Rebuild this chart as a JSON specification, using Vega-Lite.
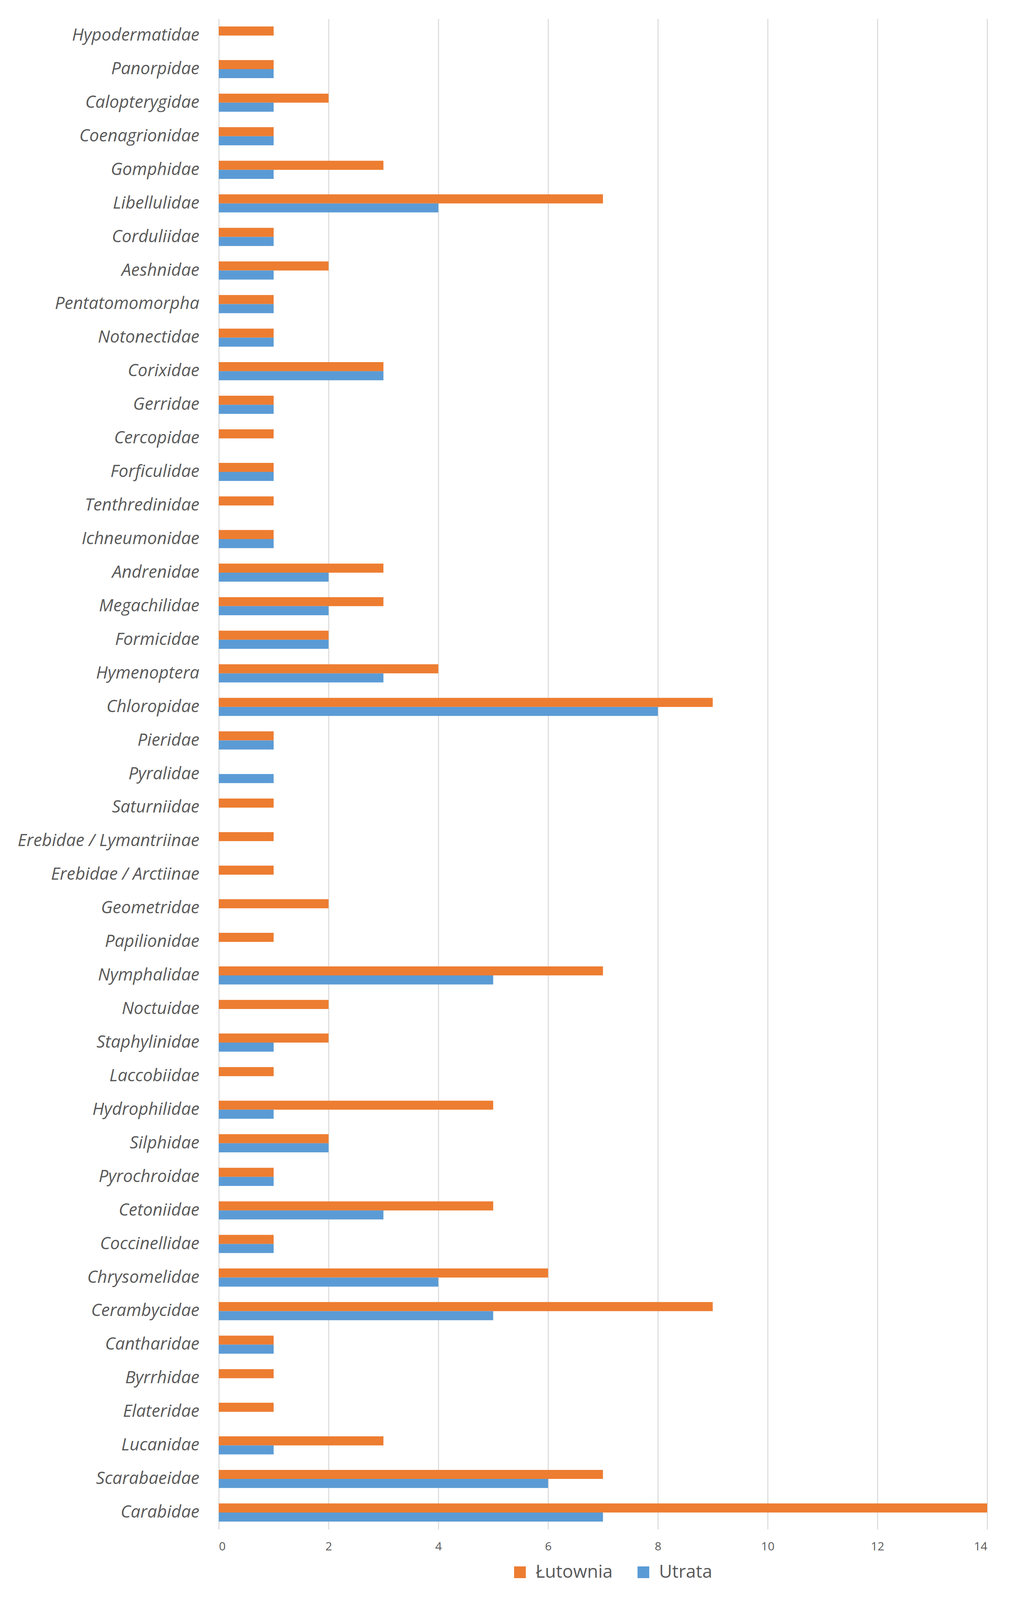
{
  "$schema": "https://vega.github.io/schema/vega-lite/v6.json",
  "usermeta": {"embedOptions": {"actions": false}},
  "width": 1967,
  "height": 3867,
  "autosize": {"type": "none"},
  "padding": {"left": 560, "top": 48, "right": 61, "bottom": 170},
  "background": "#FFFFFF",
  "data": {
    "values": [
      {"family": "Hypodermatidae", "site": "Łutownia", "count": 1},
      {"family": "Panorpidae", "site": "Łutownia", "count": 1},
      {"family": "Panorpidae", "site": "Utrata", "count": 1},
      {"family": "Calopterygidae", "site": "Łutownia", "count": 2},
      {"family": "Calopterygidae", "site": "Utrata", "count": 1},
      {"family": "Coenagrionidae", "site": "Łutownia", "count": 1},
      {"family": "Coenagrionidae", "site": "Utrata", "count": 1},
      {"family": "Gomphidae", "site": "Łutownia", "count": 3},
      {"family": "Gomphidae", "site": "Utrata", "count": 1},
      {"family": "Libellulidae", "site": "Łutownia", "count": 7},
      {"family": "Libellulidae", "site": "Utrata", "count": 4},
      {"family": "Corduliidae", "site": "Łutownia", "count": 1},
      {"family": "Corduliidae", "site": "Utrata", "count": 1},
      {"family": "Aeshnidae", "site": "Łutownia", "count": 2},
      {"family": "Aeshnidae", "site": "Utrata", "count": 1},
      {"family": "Pentatomomorpha", "site": "Łutownia", "count": 1},
      {"family": "Pentatomomorpha", "site": "Utrata", "count": 1},
      {"family": "Notonectidae", "site": "Łutownia", "count": 1},
      {"family": "Notonectidae", "site": "Utrata", "count": 1},
      {"family": "Corixidae", "site": "Łutownia", "count": 3},
      {"family": "Corixidae", "site": "Utrata", "count": 3},
      {"family": "Gerridae", "site": "Łutownia", "count": 1},
      {"family": "Gerridae", "site": "Utrata", "count": 1},
      {"family": "Cercopidae", "site": "Łutownia", "count": 1},
      {"family": "Forficulidae", "site": "Łutownia", "count": 1},
      {"family": "Forficulidae", "site": "Utrata", "count": 1},
      {"family": "Tenthredinidae", "site": "Łutownia", "count": 1},
      {"family": "Ichneumonidae", "site": "Łutownia", "count": 1},
      {"family": "Ichneumonidae", "site": "Utrata", "count": 1},
      {"family": "Andrenidae", "site": "Łutownia", "count": 3},
      {"family": "Andrenidae", "site": "Utrata", "count": 2},
      {"family": "Megachilidae", "site": "Łutownia", "count": 3},
      {"family": "Megachilidae", "site": "Utrata", "count": 2},
      {"family": "Formicidae", "site": "Łutownia", "count": 2},
      {"family": "Formicidae", "site": "Utrata", "count": 2},
      {"family": "Hymenoptera", "site": "Łutownia", "count": 4},
      {"family": "Hymenoptera", "site": "Utrata", "count": 3},
      {"family": "Chloropidae", "site": "Łutownia", "count": 9},
      {"family": "Chloropidae", "site": "Utrata", "count": 8},
      {"family": "Pieridae", "site": "Łutownia", "count": 1},
      {"family": "Pieridae", "site": "Utrata", "count": 1},
      {"family": "Pyralidae", "site": "Utrata", "count": 1},
      {"family": "Saturniidae", "site": "Łutownia", "count": 1},
      {"family": "Erebidae / Lymantriinae", "site": "Łutownia", "count": 1},
      {"family": "Erebidae / Arctiinae", "site": "Łutownia", "count": 1},
      {"family": "Geometridae", "site": "Łutownia", "count": 2},
      {"family": "Papilionidae", "site": "Łutownia", "count": 1},
      {"family": "Nymphalidae", "site": "Łutownia", "count": 7},
      {"family": "Nymphalidae", "site": "Utrata", "count": 5},
      {"family": "Noctuidae", "site": "Łutownia", "count": 2},
      {"family": "Staphylinidae", "site": "Łutownia", "count": 2},
      {"family": "Staphylinidae", "site": "Utrata", "count": 1},
      {"family": "Laccobiidae", "site": "Łutownia", "count": 1},
      {"family": "Hydrophilidae", "site": "Łutownia", "count": 5},
      {"family": "Hydrophilidae", "site": "Utrata", "count": 1},
      {"family": "Silphidae", "site": "Łutownia", "count": 2},
      {"family": "Silphidae", "site": "Utrata", "count": 2},
      {"family": "Pyrochroidae", "site": "Łutownia", "count": 1},
      {"family": "Pyrochroidae", "site": "Utrata", "count": 1},
      {"family": "Cetoniidae", "site": "Łutownia", "count": 5},
      {"family": "Cetoniidae", "site": "Utrata", "count": 3},
      {"family": "Coccinellidae", "site": "Łutownia", "count": 1},
      {"family": "Coccinellidae", "site": "Utrata", "count": 1},
      {"family": "Chrysomelidae", "site": "Łutownia", "count": 6},
      {"family": "Chrysomelidae", "site": "Utrata", "count": 4},
      {"family": "Cerambycidae", "site": "Łutownia", "count": 9},
      {"family": "Cerambycidae", "site": "Utrata", "count": 5},
      {"family": "Cantharidae", "site": "Łutownia", "count": 1},
      {"family": "Cantharidae", "site": "Utrata", "count": 1},
      {"family": "Byrrhidae", "site": "Łutownia", "count": 1},
      {"family": "Elateridae", "site": "Łutownia", "count": 1},
      {"family": "Lucanidae", "site": "Łutownia", "count": 3},
      {"family": "Lucanidae", "site": "Utrata", "count": 1},
      {"family": "Scarabaeidae", "site": "Łutownia", "count": 7},
      {"family": "Scarabaeidae", "site": "Utrata", "count": 6},
      {"family": "Carabidae", "site": "Łutownia", "count": 14},
      {"family": "Carabidae", "site": "Utrata", "count": 7}
    ]
  },
  "mark": {"type": "bar"},
  "encoding": {
    "y": {
      "field": "family",
      "type": "nominal",
      "sort": null,
      "title": null,
      "scale": {"paddingInner": 0.46, "paddingOuter": 0.23},
      "axis": {
        "domain": false,
        "ticks": false,
        "labelFont": "Open Sans",
        "labelFontStyle": "italic",
        "labelFontSize": 44,
        "labelColor": "#595959",
        "labelPadding": 50,
        "labelLimit": 0
      }
    },
    "yOffset": {
      "field": "site",
      "type": "nominal",
      "scale": {"domain": ["Łutownia", "Utrata"]}
    },
    "x": {
      "field": "count",
      "type": "quantitative",
      "title": null,
      "scale": {"domain": [0, 14], "nice": false},
      "axis": {
        "values": [0, 2, 4, 6, 8, 10, 12, 14],
        "domain": false,
        "ticks": false,
        "grid": true,
        "gridColor": "#D9D9D9",
        "gridWidth": 2.5,
        "labelFont": "Open Sans",
        "labelFontSize": 30,
        "labelColor": "#595959",
        "labelPadding": 29
      }
    },
    "color": {
      "field": "site",
      "type": "nominal",
      "title": null,
      "scale": {"domain": ["Łutownia", "Utrata"], "range": ["#ED7D31", "#5B9BD5"]},
      "legend": {
        "orient": "none",
        "direction": "horizontal",
        "legendX": 748,
        "legendY": 3954,
        "symbolType": "square",
        "symbolSize": 900,
        "symbolStrokeWidth": 0,
        "labelFont": "Open Sans",
        "labelFontSize": 46,
        "labelColor": "#595959",
        "labelOffset": 17,
        "labelLimit": 0,
        "columnPadding": 55
      }
    }
  },
  "config": {"view": {"stroke": null}}
}
